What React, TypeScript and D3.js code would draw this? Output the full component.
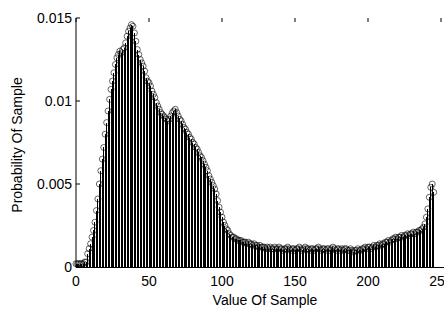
import React, { useEffect, useRef } from 'react'
import * as d3 from 'd3'

// probability of each sample value 0..255
const probs: number[] = [
  0.0002, 0.0002, 0.0002, 0.0002, 0.0002, 0.0002, 0.0003, 0.0003, 0.0008, 0.0011,
  0.0014, 0.0018, 0.0022, 0.0027, 0.0034, 0.0041, 0.0050, 0.0058, 0.0065, 0.0072,
  0.0080, 0.0087, 0.0094, 0.0101, 0.0107, 0.0112, 0.0117, 0.0122, 0.0126, 0.0128,
  0.0130, 0.0129, 0.0131, 0.0132, 0.0135, 0.0139, 0.0142, 0.0144, 0.0146, 0.0145,
  0.0141, 0.0136, 0.0131, 0.0128, 0.0125, 0.0123, 0.0121, 0.0118, 0.0114, 0.0112,
  0.0111, 0.0109, 0.0106, 0.0104, 0.0102, 0.0099, 0.0097, 0.0095, 0.0093, 0.0092,
  0.0091, 0.0090, 0.0089, 0.0088, 0.0089, 0.0091, 0.0093, 0.0094, 0.0095, 0.0093,
  0.0091, 0.0089, 0.0088, 0.0086, 0.0084, 0.0083, 0.0081, 0.0080, 0.0078, 0.0077,
  0.0075, 0.0074, 0.0072, 0.0071, 0.0069, 0.0067, 0.0066, 0.0064, 0.0062, 0.0060,
  0.0058, 0.0055, 0.0053, 0.0051, 0.0049, 0.0047, 0.0044, 0.0040, 0.0036, 0.0033,
  0.0030, 0.0027, 0.0025, 0.0023, 0.0022, 0.0020, 0.0019, 0.0018, 0.0018, 0.0017,
  0.0017, 0.0016, 0.0016, 0.0016, 0.0015, 0.0015, 0.0015, 0.0014, 0.0015, 0.0014,
  0.0014, 0.0013, 0.0014, 0.0013, 0.0013, 0.0012, 0.0013, 0.0012, 0.0012, 0.0012,
  0.0011, 0.0012, 0.0011, 0.0012, 0.0011, 0.0011, 0.0012, 0.0011, 0.0011, 0.0012,
  0.0011, 0.0011, 0.0010, 0.0011, 0.0011, 0.0012, 0.0011, 0.0010, 0.0011, 0.0011,
  0.0010, 0.0011, 0.0011, 0.0012, 0.0011, 0.0010, 0.0011, 0.0012, 0.0011, 0.0011,
  0.0010, 0.0011, 0.0011, 0.0010, 0.0011, 0.0011, 0.0012, 0.0011, 0.0010, 0.0011,
  0.0011, 0.0010, 0.0011, 0.0011, 0.0010, 0.0011, 0.0012, 0.0011, 0.0010, 0.0011,
  0.0011, 0.0010, 0.0011, 0.0010, 0.0011, 0.0011, 0.0010, 0.0010, 0.0011, 0.0010,
  0.0009, 0.0010, 0.0010, 0.0011, 0.0010, 0.0010, 0.0011, 0.0011, 0.0012, 0.0011,
  0.0012, 0.0012, 0.0011, 0.0012, 0.0013, 0.0012, 0.0013, 0.0013, 0.0014, 0.0013,
  0.0014, 0.0014, 0.0015, 0.0015, 0.0016, 0.0015, 0.0016, 0.0017, 0.0017, 0.0018,
  0.0017, 0.0018, 0.0018, 0.0019, 0.0018, 0.0019, 0.0019, 0.0020, 0.0019, 0.0020,
  0.0020, 0.0021, 0.0020, 0.0021, 0.0021, 0.0022, 0.0022, 0.0023, 0.0024, 0.0026,
  0.0030, 0.0035, 0.0042, 0.0048, 0.0050, 0.0045,
]

const xTicks = [0, 50, 100, 150, 200, 250]
const yTicks = [0, 0.005, 0.01, 0.015]
const yTickLabels = ['0', '0.005', '0.01', '0.015']

export default function App() {
  const ref = useRef<SVGSVGElement>(null)

  useEffect(() => {
    const svg = d3.select(ref.current)
    svg.selectAll('*').remove()

    const x = d3.scaleLinear().domain([0, 250]).range([76, 441])
    const y = d3.scaleLinear().domain([0, 0.015]).range([267, 18])
    const font = 'Liberation Sans, Arial, sans-serif'

    // stems
    svg.append('g')
      .attr('shape-rendering', 'crispEdges')
      .selectAll('line')
      .data(probs)
      .enter()
      .append('line')
      .attr('x1', (d, i) => x(i))
      .attr('x2', (d, i) => x(i))
      .attr('y1', y(0))
      .attr('y2', d => y(d))
      .attr('stroke', '#000')
      .attr('stroke-width', 1)

    // circle markers
    svg.append('g')
      .selectAll('circle')
      .data(probs)
      .enter()
      .append('circle')
      .attr('cx', (d, i) => x(i))
      .attr('cy', d => y(d))
      .attr('r', 3)
      .attr('fill', 'none')
      .attr('stroke', '#000')
      .attr('stroke-width', 0.6)

    // axes lines
    const axes = svg.append('g').attr('stroke', '#000').attr('stroke-width', 1)
    axes.append('line')
      .attr('x1', 76).attr('x2', 76)
      .attr('y1', y(0.015)).attr('y2', y(0) + 0.5)
    axes.append('line')
      .attr('x1', 76).attr('x2', 444)
      .attr('y1', y(0) + 0.5).attr('y2', y(0) + 0.5)

    // y ticks (inward) and labels
    yTicks.forEach((t, i) => {
      axes.append('line')
        .attr('x1', 76).attr('x2', 80)
        .attr('y1', y(t)).attr('y2', y(t))
      svg.append('text')
        .attr('x', 72)
        .attr('y', y(t))
        .attr('dy', '0.35em')
        .attr('text-anchor', 'end')
        .attr('font-family', font)
        .attr('font-size', 14)
        .text(yTickLabels[i])
    })

    // x ticks on the top edge, labels below
    xTicks.forEach(t => {
      axes.append('line')
        .attr('x1', x(t)).attr('x2', x(t))
        .attr('y1', y(0.015)).attr('y2', y(0.015) + 4)
      svg.append('text')
        .attr('x', x(t))
        .attr('y', 286)
        .attr('text-anchor', 'middle')
        .attr('font-family', font)
        .attr('font-size', 14)
        .text(String(t))
    })

    svg.append('text')
      .attr('x', 265)
      .attr('y', 305)
      .attr('text-anchor', 'middle')
      .attr('font-family', font)
      .attr('font-size', 14)
      .text('Value Of Sample')

    svg.append('text')
      .attr('transform', 'translate(22,145) rotate(-90)')
      .attr('text-anchor', 'middle')
      .attr('font-family', font)
      .attr('font-size', 14)
      .text('Probability Of Sample')
  }, [])

  return (
    <div>
      <style>{'body{margin:0}'}</style>
      <svg ref={ref} width={444} height={309} style={{ display: 'block', background: '#fff' }} />
    </div>
  )
}
